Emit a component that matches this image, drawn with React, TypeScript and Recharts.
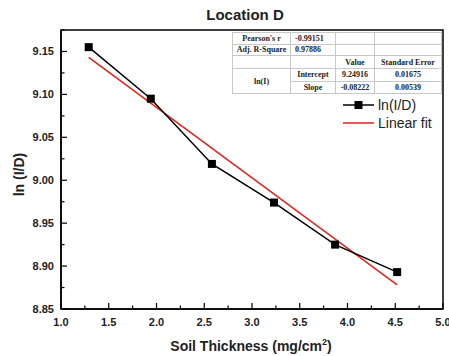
import React from "react";
import { LineChart, Line, XAxis, YAxis, ReferenceArea, Label } from "recharts";

// measured points, ln(I/D) vs soil thickness
const thickness = [1.29, 1.94, 2.58, 3.23, 3.87, 4.52];
const lnID = [9.155, 9.095, 9.019, 8.974, 8.925, 8.893];

// linear fit end points
const fitThickness = [1.29, 4.52];
const fitLnID = [9.143, 8.878];

const xMajor = [1.0, 1.5, 2.0, 2.5, 3.0, 3.5, 4.0, 4.5, 5.0];
const xMinor = [1.25, 1.75, 2.25, 2.75, 3.25, 3.75, 4.25, 4.75];
const yMajor = [8.85, 8.9, 8.95, 9.0, 9.05, 9.1, 9.15];
const yMinor = [8.875, 8.925, 8.975, 9.025, 9.075, 9.125, 9.175];

// fit summary table
const statNames = ["Pearson's r", "Adj. R-Square"];
const statValues = ["-0.99151", "0.97886"];
const tableHeaders = ["Value", "Standard Error"];
const paramGroup = "ln(I)";
const paramNames = ["Intercept", "Slope"];
const paramValues = ["9.24916", "-0.08222"];
const paramErrors = ["0.01675", "0.00539"];

const points = thickness.map((x, i) => ({ x, y: lnID[i] }));
const fitPoints = fitThickness.map((x, i) => ({ x, y: fitLnID[i] }));

const FONT = "'Liberation Sans', Arial, sans-serif";
const SERIF = "'Liberation Serif', 'Times New Roman', serif";
const RED = "#e3211c";

const YTick = (props: any) => {
  const { x, y, payload } = props;
  const major = yMajor.includes(payload.value);
  return (
    <g>
      <line x1={x} x2={x + (major ? 6 : 3.5)} y1={y} y2={y} stroke="#000" strokeWidth={1.2} />
      {major && (
        <text x={x - 7} y={y} dy="0.35em" textAnchor="end" fontSize={11} fontWeight="bold" fontFamily={FONT} fill="#222">
          {payload.value.toFixed(2)}
        </text>
      )}
    </g>
  );
};

const XTick = (props: any) => {
  const { x, y, payload } = props;
  const major = xMajor.includes(payload.value);
  return (
    <g>
      <line x1={x} x2={x} y1={y} y2={y - (major ? 6 : 3.5)} stroke="#000" strokeWidth={1.2} />
      {major && (
        <text x={x} y={y + 13} dy="0.35em" textAnchor="middle" fontSize={11} fontWeight="bold" fontFamily={FONT} fill="#222">
          {payload.value.toFixed(1)}
        </text>
      )}
    </g>
  );
};

const SquareDot = (props: any) => {
  const { cx, cy, index } = props;
  return <rect key={`sq-${index}`} x={cx - 4} y={cy - 4} width={8} height={8} fill="#000" />;
};

const XTitle = (props: any) => {
  const { viewBox } = props;
  const cx = viewBox.x + viewBox.width / 2 - 1;
  return (
    <text x={cx} y={351} textAnchor="middle" fontSize={14} fontWeight="bold" fontFamily={FONT} fill="#222">
      Soil Thickness (mg/cm
      <tspan dy={-6} fontSize={9}>2</tspan>
      <tspan dy={6}>)</tspan>
    </text>
  );
};

const YTitle = (props: any) => {
  const { viewBox } = props;
  const cy = viewBox.y + viewBox.height / 2 + 5;
  return (
    <text x={19} y={cy} transform={`rotate(-90 19 ${cy})`} dy="0.35em" textAnchor="middle" fontSize={14} fontWeight="bold" fontFamily={FONT} fill="#222">
      ln (I/D)
    </text>
  );
};

const cell: React.CSSProperties = {
  border: "1px solid #c8c8c8",
  padding: 0,
  textAlign: "center",
  fontFamily: SERIF,
  fontWeight: "bold",
  fontSize: 8,
  color: "#222",
  whiteSpace: "nowrap",
};

function FitTable() {
  return (
    <table
      style={{
        position: "absolute",
        left: 232,
        top: 32,
        width: 209,
        height: 62,
        borderCollapse: "collapse",
        border: "1px solid #777",
        background: "#fff",
        tableLayout: "fixed",
      }}
    >
      <colgroup>
        <col style={{ width: 58 }} />
        <col style={{ width: 45 }} />
        <col style={{ width: 39 }} />
        <col style={{ width: 67 }} />
      </colgroup>
      <tbody>
        {statNames.map((n, i) => (
          <tr key={n} style={{ height: 11.5 }}>
            <td style={cell}>{n}</td>
            <td style={{ ...cell, textAlign: "left", paddingLeft: 4 }}>{statValues[i]}</td>
            <td style={cell}></td>
            <td style={cell}></td>
          </tr>
        ))}
        <tr style={{ height: 13 }}>
          <td style={cell}></td>
          <td style={cell}></td>
          <td style={cell}>{tableHeaders[0]}</td>
          <td style={cell}>{tableHeaders[1]}</td>
        </tr>
        {paramNames.map((n, i) => (
          <tr key={n} style={{ height: 12.5 }}>
            {i === 0 && (
              <td style={cell} rowSpan={2}>
                {paramGroup}
              </td>
            )}
            <td style={cell}>{n}</td>
            <td style={cell}>{paramValues[i]}</td>
            <td style={cell}>{paramErrors[i]}</td>
          </tr>
        ))}
      </tbody>
    </table>
  );
}

function ChartLegend() {
  const row: React.CSSProperties = { display: "flex", alignItems: "center", height: 18 };
  return (
    <div style={{ position: "absolute", left: 343, top: 96, fontFamily: FONT, fontSize: 14, color: "#222" }}>
      <div style={row}>
        <svg width={31} height={12}>
          <line x1={0} x2={31} y1={6} y2={6} stroke="#000" strokeWidth={1.5} />
          <rect x={11.5} y={2} width={8} height={8} fill="#000" />
        </svg>
        <span style={{ marginLeft: 4 }}>ln(I/D)</span>
      </div>
      <div style={row}>
        <svg width={31} height={12}>
          <line x1={0} x2={31} y1={6} y2={6} stroke={RED} strokeWidth={1.5} />
        </svg>
        <span style={{ marginLeft: 4 }}>Linear fit</span>
      </div>
    </div>
  );
}

export default function App() {
  return (
    <div style={{ position: "absolute", left: 0, top: 0, width: 449, height: 356, background: "#fff" }}>
      <div
        style={{
          position: "absolute",
          left: 0,
          width: 490,
          top: 7,
          textAlign: "center",
          fontFamily: FONT,
          fontWeight: "bold",
          fontSize: 15,
          lineHeight: "16px",
          color: "#222",
        }}
      >
        Location D
      </div>
      <LineChart width={449} height={356} margin={{ top: 30, right: 6, left: 0, bottom: 0 }}>
        <ReferenceArea
          x1={1}
          x2={5}
          y1={8.85}
          y2={9.175}
          fill="none"
          stroke="#000"
          strokeWidth={1.5}
          ifOverflow="visible"
        />
        <XAxis
          type="number"
          dataKey="x"
          domain={[1, 5]}
          ticks={[...xMajor, ...xMinor].sort((a, b) => a - b)}
          interval={0}
          tick={<XTick />}
          tickLine={false}
          tickSize={0}
          tickMargin={0}
          height={47}
          axisLine={{ stroke: "#000", strokeWidth: 1.5 }}
          allowDataOverflow
        >
          <Label content={<XTitle />} />
        </XAxis>
        <YAxis
          type="number"
          domain={[8.85, 9.175]}
          ticks={[...yMajor, ...yMinor].sort((a, b) => a - b)}
          interval={0}
          tick={<YTick />}
          tickLine={false}
          tickSize={0}
          tickMargin={0}
          width={61}
          axisLine={{ stroke: "#000", strokeWidth: 1.5 }}
          allowDataOverflow
        >
          <Label content={<YTitle />} />
        </YAxis>
        <Line
          data={fitPoints}
          dataKey="y"
          type="linear"
          stroke={RED}
          strokeWidth={1.5}
          dot={false}
          activeDot={false}
          isAnimationActive={false}
        />
        <Line
          data={points}
          dataKey="y"
          type="linear"
          stroke="#000"
          strokeWidth={1.5}
          dot={<SquareDot />}
          activeDot={false}
          isAnimationActive={false}
        />
      </LineChart>
      <FitTable />
      <ChartLegend />
    </div>
  );
}
